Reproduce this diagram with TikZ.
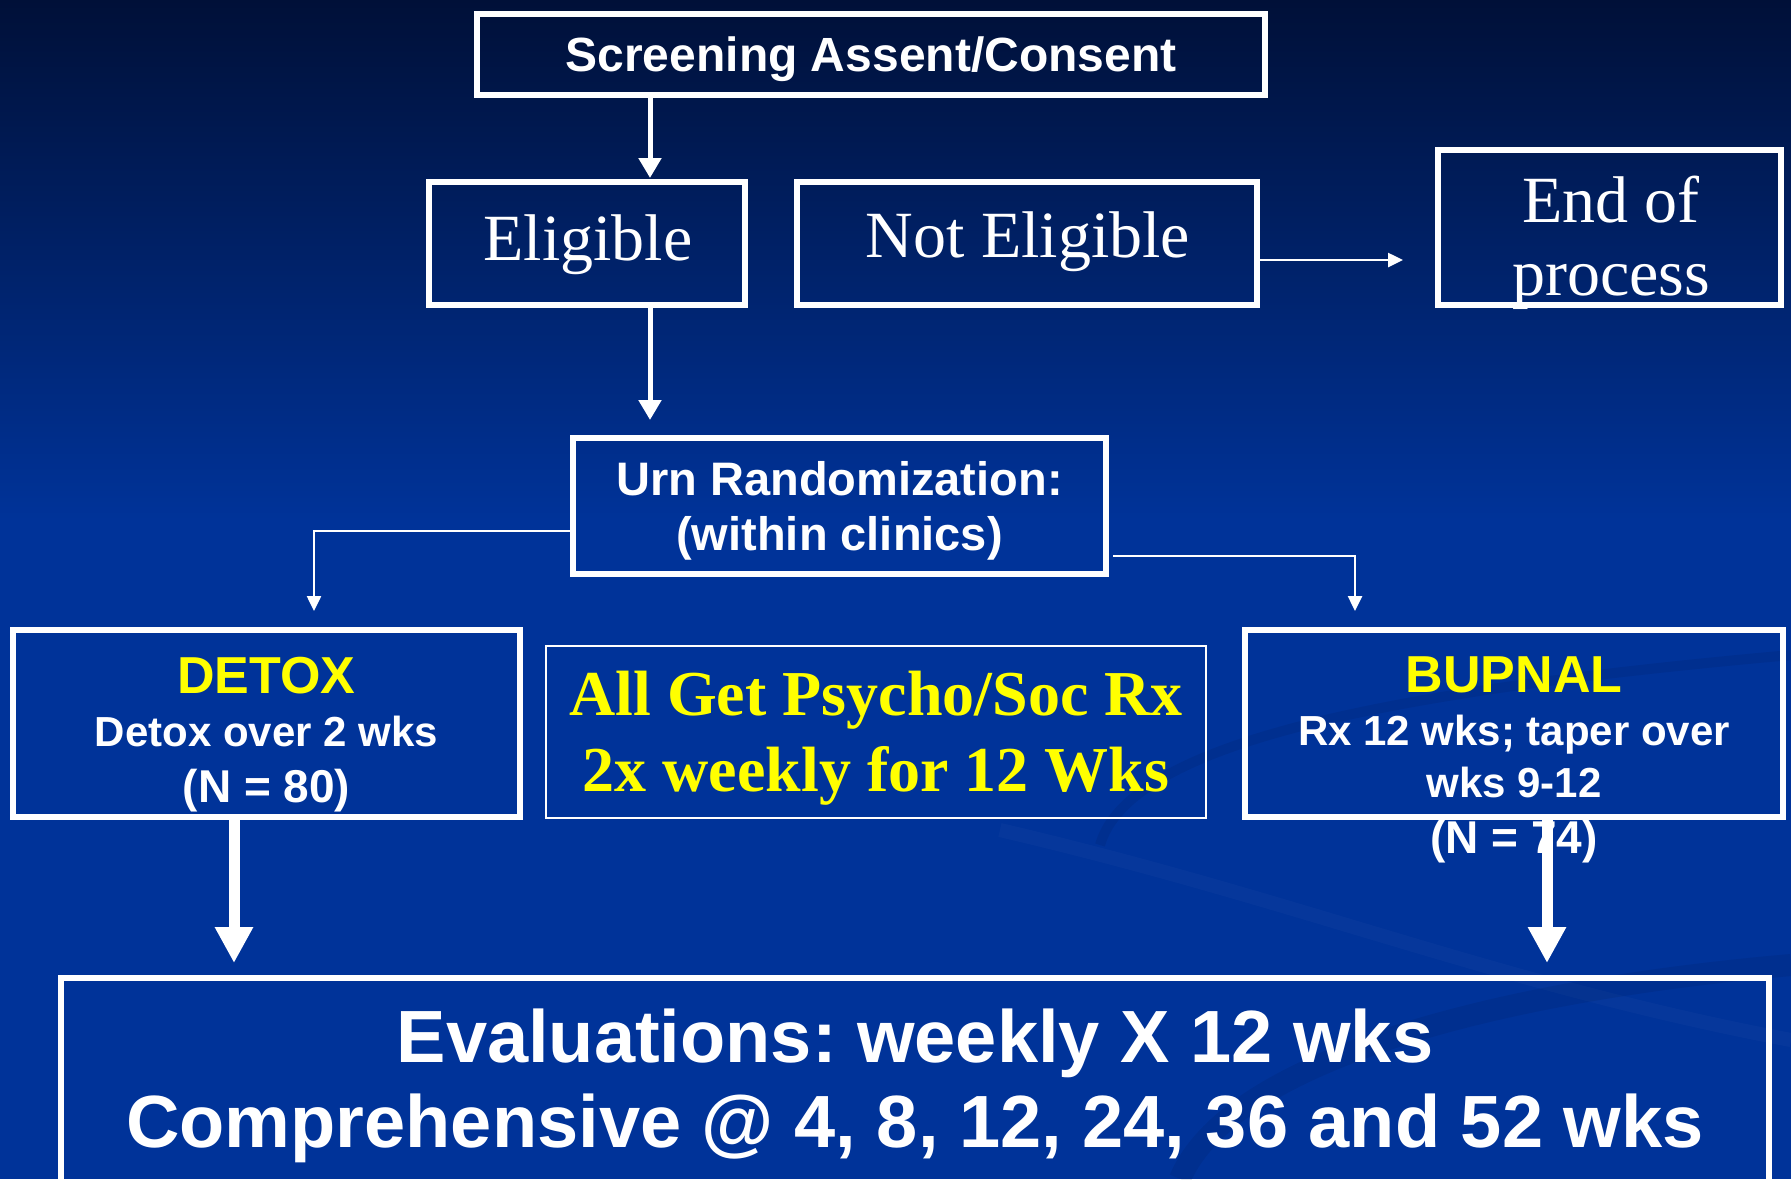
\documentclass[tikz,border=0pt]{standalone}
\usepackage{fontspec}
\setmainfont{Liberation Serif}
\setsansfont{Liberation Sans}
\usetikzlibrary{arrows.meta}
\definecolor{bgtop}{HTML}{001038}
\definecolor{bgbot}{HTML}{003399}
\definecolor{ylw}{HTML}{FFFF00}
\newcommand{\myfs}[1]{\fontsize{#1}{#1}\selectfont}
\frenchspacing
\begin{document}
\frenchspacing
\begin{tikzpicture}[x=1pt,y=-1pt,
  frame/.style={draw=white, line width=6pt, rectangle, inner sep=0pt},
  thinframe/.style={draw=white, line width=2.5pt, rectangle, inner sep=0pt},
  txt/.style={anchor=base, inner sep=0pt, text=white},
  ytxt/.style={anchor=base, inner sep=0pt, text=ylw},
  bigarrow/.style={draw=white, line width=11pt, -{Triangle[length=36pt,width=36pt]}},
  midarrow/.style={draw=white, line width=5pt, -{Triangle[length=20pt,width=22pt]}},
  thinarrow/.style={draw=white, line width=2.5pt, -{Triangle[length=15pt,width=14pt]}},
  swdark/.style={draw=bgtop, opacity=0.1},
  swlight/.style={draw=white, opacity=0.025}
]
\useasboundingbox (0,0) rectangle (1791,1179);
% background
\fill[top color=bgtop, bottom color=bgbot] (0,0) rectangle (1791,520);
\fill[bgbot] (0,519) rectangle (1791,1179);
% faint swooshes
\draw[swdark, line width=10pt] (1100,845) .. controls (1130,740) and (1400,690) .. (1791,655);
\draw[swlight, line width=14pt] (1000,830) .. controls (1300,900) and (1500,985) .. (1791,1040);
\draw[swdark, line width=22pt] (1180,1179) .. controls (1230,1060) and (1500,990) .. (1791,965);

% boxes
\node[frame, minimum width=788pt, minimum height=81pt] (screen) at (871,54.5) {};
\node[frame, minimum width=316pt, minimum height=123pt] (elig) at (587,243.5) {};
\node[frame, minimum width=460pt, minimum height=123pt] (notel) at (1027,243.5) {};
\node[frame, minimum width=343pt, minimum height=155pt] (endp) at (1609.5,227.5) {};
\node[frame, minimum width=533pt, minimum height=136pt] (urn) at (839.5,506) {};
\node[frame, minimum width=507pt, minimum height=187pt] (detox) at (266.5,723.5) {};
\node[thinframe, minimum width=660pt, minimum height=172pt] (allget) at (876,732) {};
\node[frame, minimum width=538pt, minimum height=187pt] (bupnal) at (1514,723.5) {};
\node[frame, minimum width=1708pt, minimum height=230pt] (eval) at (915,1093) {};

% texts
\node[txt, font=\sffamily\bfseries\myfs{48}] (t-screen) at (871,71) {Screening Assent/Consent};
\node[txt, font=\rmfamily\myfs{66}] (t-elig) at (588,260) {Eligible};
\node[txt, font=\rmfamily\myfs{66}] (t-notel) at (1028,257) {Not Eligible};
\node[txt, font=\rmfamily\myfs{66}] (t-end1) at (1611,222) {End of};
\node[txt, font=\rmfamily\myfs{66}] (t-end2) at (1611,295) {process};
\node[txt, font=\sffamily\bfseries\myfs{47}] (t-urn1) at (839.5,495) {Urn Randomization:};
\node[txt, font=\sffamily\bfseries\myfs{47}] (t-urn2) at (839.5,550) {(within clinics)};
\node[ytxt, font=\sffamily\bfseries\myfs{52}] (t-det1) at (266.5,693) {DETOX};
\node[txt, font=\sffamily\bfseries\myfs{42}] (t-det2) at (266.5,746) {Detox over 2 wks};
\node[txt, font=\sffamily\bfseries\myfs{46}] (t-det3) at (266.5,802) {(N = 80)};
\node[ytxt, font=\rmfamily\bfseries\myfs{64}] (t-all1) at (876,715) {All Get Psycho/Soc Rx};
\node[ytxt, font=\rmfamily\bfseries\myfs{64}] (t-all2) at (876,791) {2x weekly for 12 Wks};
\node[ytxt, font=\sffamily\bfseries\myfs{52}] (t-bup1) at (1514,692) {BUPNAL};
\node[txt, font=\sffamily\bfseries\myfs{42}] (t-bup2) at (1514,745) {Rx 12 wks; taper over};
\node[txt, font=\sffamily\bfseries\myfs{42}] (t-bup3) at (1514,797) {wks 9-12};
\node[txt, font=\sffamily\bfseries\myfs{46}] (t-bup4) at (1514,853) {(N = 74)};
\node[txt, font=\sffamily\bfseries\myfs{74}] (t-eval1) at (915,1062) {Evaluations: weekly X 12 wks};
\node[txt, font=\sffamily\bfseries\myfs{74}] (t-eval2) at (915,1147) {Comprehensive @ 4, 8, 12, 24, 36 and 52 wks};

% connector end points
\coordinate (etip) at (650,178);
\coordinate (utip) at (650,420);
\coordinate (ntip) at (1403,260);
\coordinate (lrow) at (0,531);
\coordinate (ldrop) at (314,611);
\coordinate (rrow) at (0,556);
\coordinate (rdrop) at (1355,611);
\coordinate (dtip) at (234,963);
\coordinate (btip) at (1547,963);

% connectors
\draw[midarrow] (screen.south -| etip) -- (etip);
\draw[midarrow] (elig.south -| utip) -- (utip);
\draw[thinarrow] (notel.east |- ntip) -- (ntip);
\draw[thinarrow] (urn.west |- lrow) -| (ldrop);
\draw[thinarrow] ([xshift=4pt]urn.east |- rrow) -| (rdrop);
\draw[bigarrow] (detox.south -| dtip) -- (dtip);
\draw[bigarrow] (bupnal.south -| btip) -- (btip);
\end{tikzpicture}
\end{document}
